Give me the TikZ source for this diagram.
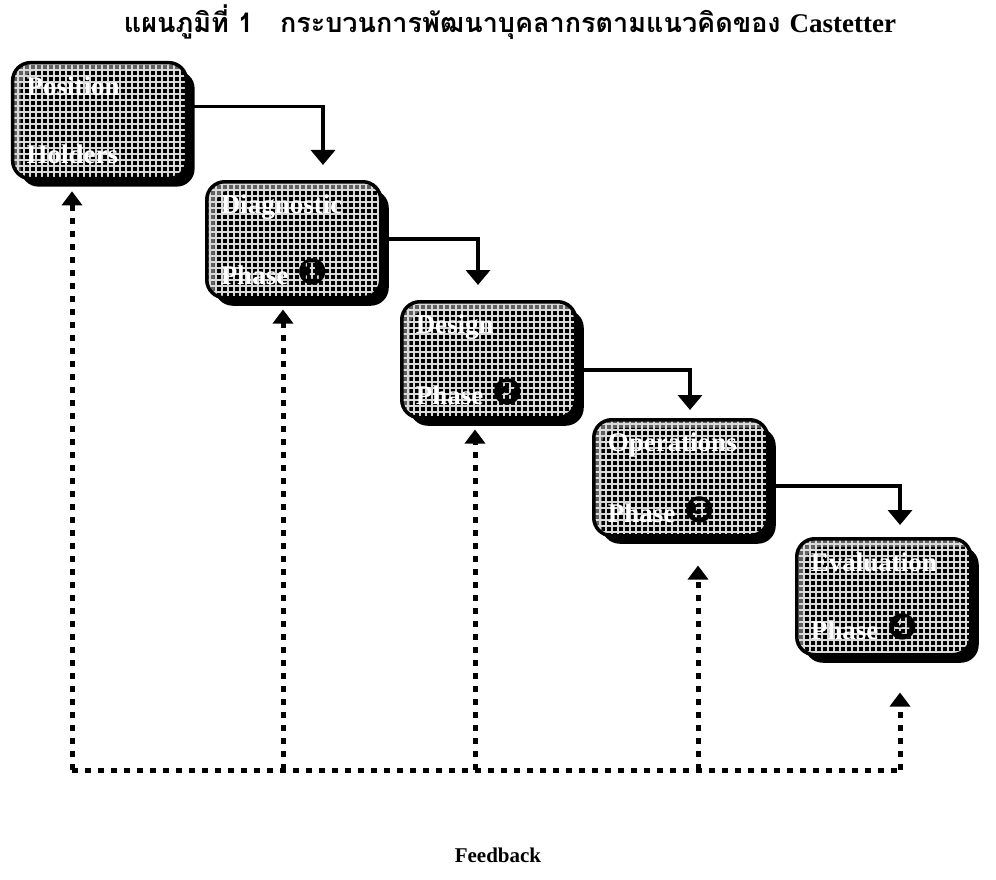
\documentclass[tikz,border=0pt]{standalone}
\usepackage{fontspec}
\setmainfont{Liberation Serif}
\newfontfamily\thaifont[Script=Thai]{Loma}
\newfontfamily\symfont{DejaVu Sans}
\usetikzlibrary{arrows.meta, shadows, patterns.meta}
\tikzstyle{phase} = [rectangle, rounded corners=18pt, draw=black, line width=3.5pt,
  minimum width=174pt, minimum height=116pt, text width=146pt, align=left,
  anchor=north west, text=white, font=\fontsize{27}{30}\selectfont\bfseries,
  preaction={fill=black!62}, pattern={Hatch[angle=0, distance=6pt, line width=1.3pt]}, pattern color=white!85!black,
  drop shadow={shadow xshift=8pt, shadow yshift=-8pt, fill=black, opacity=1}]
\tikzstyle{flow} = [line width=3.5pt, -{Triangle[length=15pt,width=24pt]}]
\tikzstyle{fback} = [line width=5pt, dash pattern=on 6pt off 7pt, -{Triangle[length=14pt,width=20pt]}]
\tikzstyle{fline} = [line width=5pt, dash pattern=on 6pt off 7pt]
\newcommand{\num}[1]{{\color{black}\fontsize{36}{36}\symfont #1}}

\begin{document}
\begin{tikzpicture}[x=1pt, y=-1pt]
	\useasboundingbox (0,0) rectangle (996,880);
	\node (title) at (510,22) {\fontsize{27}{30}\selectfont\bfseries\thaifont แผนภูมิที่ 1\quad กระบวนการพัฒนาบุคลากรตามแนวคิดของ {\rmfamily Castetter}};

	\node[phase] (b1) at (12,62) {Position\\[38pt]Holders};
	\node[phase] (b2) at (205,180) {Diagnostic\\[38pt]Phase \num{❶}};
	\node[phase] (b3) at (400,300) {Design\\[38pt]Phase \num{❷}};
	\node[phase] (b4) at (592,418) {Operations\\[38pt]Phase \num{❸}};
	\node[phase] (b5) at (795,537) {Evaluation\\[38pt]Phase \num{❹}};

	\draw[flow, shorten >=15pt] ([yshift=14pt]b1.east) -| ([xshift=118pt]b2.north west);
	\draw[flow, shorten >=15pt] ([yshift=1pt]b2.east) -| ([xshift=78pt]b3.north west);
	\draw[flow, shorten >=8pt] ([yshift=-10pt]b3.east) -| ([xshift=98pt]b4.north west);
	\draw[flow, shorten >=12pt] ([yshift=-8pt]b4.east) -| ([xshift=105pt]b5.north west);

	\coordinate (f1) at (72,770);
	\coordinate (f2) at (283,770);
	\coordinate (f3) at (475,770);
	\coordinate (f4) at (698,770);
	\coordinate (f5) at (900,770);
	\draw[fline] (f1) -- (f5);
	\draw[fback, shorten >=12pt] (f1) -- (f1 |- b1.south);
	\draw[fback, shorten >=10pt] (f2) -- (f2 |- b2.south);
	\draw[fback, shorten >=10pt] (f3) -- (f3 |- b3.south);
	\draw[fback, shorten >=28pt] (f4) -- (f4 |- b4.south);
	\draw[fback, shorten >=36pt] (f5) -- (f5 |- b5.south);

	\node[font=\fontsize{21}{24}\selectfont\bfseries] (fbk) at (498,855) {Feedback};
\end{tikzpicture}
\end{document}
